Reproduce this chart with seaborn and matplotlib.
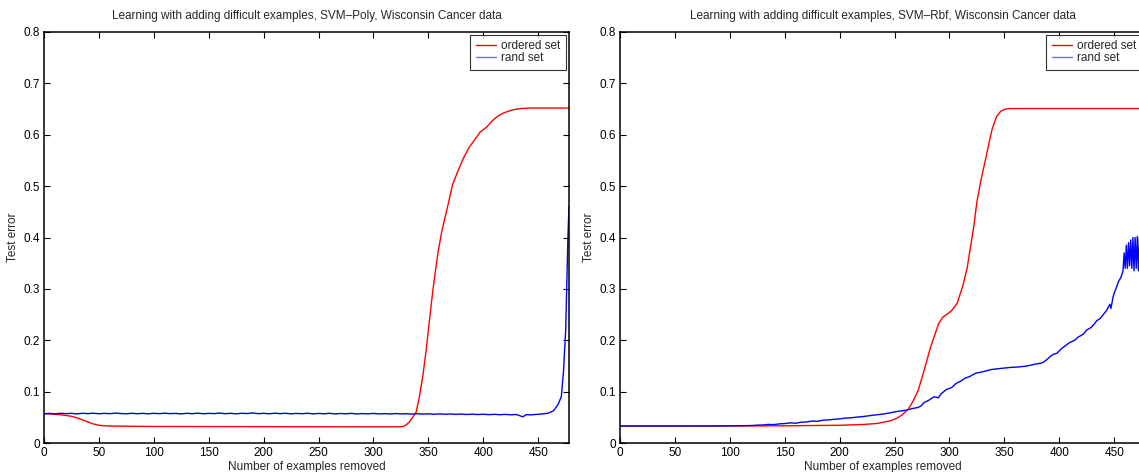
import numpy as np
import pandas as pd
import matplotlib
matplotlib.use("Agg")
import matplotlib.pyplot as plt
import seaborn as sns

# ---- data ----
poly_ord_x = [0, 5, 10, 15, 20, 25, 30, 35, 40, 45, 50, 55, 60, 70, 80, 100, 150, 200, 250, 300, 321.5,
              326.6, 329.6, 332.7, 335.7, 338.8, 341.8, 344.9, 347.9, 351, 354, 357, 359, 362, 365, 368,
              372, 377, 382, 387, 392, 397, 403, 408, 413, 418, 423, 428, 434, 443, 478]
poly_ord_y = [0.057, 0.0565, 0.0558, 0.055, 0.0535, 0.052, 0.049, 0.045, 0.041, 0.037, 0.0345, 0.0335,
              0.033, 0.0328, 0.0325, 0.0322, 0.032, 0.0318, 0.0316, 0.0315, 0.0315,
              0.032, 0.035, 0.041, 0.05, 0.06, 0.09, 0.13, 0.18, 0.24, 0.296, 0.345, 0.374, 0.41, 0.438,
              0.465, 0.503, 0.53, 0.555, 0.575, 0.59, 0.605, 0.615, 0.627, 0.636, 0.642, 0.646, 0.649,
              0.651, 0.652, 0.652]

poly_rand_x = [0, 5, 10, 15, 20, 25, 30, 35, 40, 45, 50, 55, 60, 65, 70, 75, 80, 85, 90, 95, 100,
               105, 110, 115, 120, 125, 130, 135, 140, 145, 150, 155, 160, 165, 170, 175, 180, 185, 190,
               195, 200, 205, 210, 215, 220, 225, 230, 235, 240, 245, 250, 255, 260, 265, 270, 275, 280,
               285, 290, 295, 300, 305, 310, 315, 320, 325, 330, 335, 340, 345, 350, 355, 360, 365, 370,
               375, 380, 385, 390, 395, 400, 405, 410, 415, 420, 425, 430, 436, 439, 443, 448, 453, 459,
               464, 468, 471, 473, 475, 476, 477, 478]
poly_rand_y = [0.057, 0.0576, 0.0568, 0.0579, 0.0571, 0.0577, 0.0566, 0.0578, 0.0572, 0.058, 0.0569,
               0.0577, 0.0571, 0.0582, 0.0574, 0.0568, 0.0579, 0.057, 0.0577, 0.0568, 0.0578,
               0.0571, 0.058, 0.0572, 0.0576, 0.0566, 0.0578, 0.0571, 0.0581, 0.0569, 0.0577,
               0.0572, 0.0583, 0.057, 0.0578, 0.0567, 0.0579, 0.0573, 0.0585, 0.0571, 0.0577,
               0.0569, 0.058, 0.0572, 0.0578, 0.0568, 0.0576, 0.057, 0.0579, 0.0567, 0.0575,
               0.0569, 0.0578, 0.0566, 0.0574, 0.0568, 0.0577, 0.0565, 0.0573, 0.0567, 0.0576,
               0.0566, 0.0572, 0.0564, 0.0573, 0.0566, 0.057, 0.0562, 0.0571, 0.0563, 0.0568,
               0.0559, 0.0567, 0.056, 0.0565, 0.0557, 0.0563, 0.0555, 0.0562, 0.0554, 0.056,
               0.0552, 0.0558, 0.0551, 0.0557, 0.0549, 0.0555, 0.051, 0.0552, 0.0548, 0.0556,
               0.0565, 0.058, 0.063, 0.075, 0.09, 0.14, 0.22, 0.31, 0.40, 0.46]

rbf_ord_x = [0, 50, 100, 150, 200, 221, 234, 246, 252, 257, 262.5, 266.5, 271.6, 276.7, 282.8, 286.9,
             290, 294, 298, 302, 307, 312, 316, 319, 322, 325, 328.5, 332.6, 335.6, 338.7, 342.7, 346.8,
             350.9, 355, 478]
rbf_ord_y = [0.033, 0.033, 0.0332, 0.0335, 0.0345, 0.036, 0.038, 0.043, 0.048, 0.055, 0.066, 0.08,
             0.103, 0.14, 0.187, 0.212, 0.232, 0.245, 0.251, 0.258, 0.272, 0.305, 0.34, 0.38, 0.42,
             0.47, 0.51, 0.55, 0.58, 0.61, 0.635, 0.646, 0.650, 0.651, 0.651]

rbf_rand_x = [0, 50, 100, 120, 125, 130, 135, 140, 145, 150, 155, 160, 165, 170, 175, 180, 185, 190,
              195, 200, 205, 210, 215, 220, 225, 230, 235, 240, 245, 251, 256, 261, 266, 271, 274, 277,
              281, 286, 290, 292, 297, 302, 306, 310, 314, 318, 324, 331, 338, 346, 355, 363, 371, 379,
              383, 386, 389, 391, 394, 398, 402, 406, 409, 414, 417, 422, 425, 429, 432, 434, 437, 440,
              443, 446, 447, 449, 450, 452, 454, 456, 458,
              459, 460, 461, 462, 463, 464, 465, 466, 467, 468, 469, 470, 471, 472, 473, 474, 475, 476,
              477, 478]
rbf_rand_y = [0.033, 0.033, 0.0333, 0.034, 0.0348, 0.035, 0.0362, 0.0358, 0.0372, 0.0378, 0.0392,
              0.0385, 0.0405, 0.041, 0.0428, 0.0422, 0.0445, 0.045, 0.0462, 0.0468, 0.0485, 0.049,
              0.0502, 0.0512, 0.0525, 0.054, 0.0552, 0.0565, 0.0582, 0.061, 0.0625, 0.064, 0.067,
              0.069, 0.072, 0.079, 0.083, 0.09, 0.088, 0.095, 0.104, 0.108, 0.116, 0.12, 0.126, 0.129,
              0.136, 0.139, 0.143, 0.145, 0.147, 0.148, 0.15, 0.154, 0.155, 0.158, 0.163, 0.167, 0.172,
              0.175, 0.184, 0.19, 0.195, 0.2, 0.206, 0.212, 0.22, 0.225, 0.232, 0.238, 0.242, 0.25,
              0.258, 0.27, 0.262, 0.285, 0.292, 0.303, 0.315, 0.322, 0.335,
              0.37, 0.34, 0.385, 0.34, 0.39, 0.345, 0.395, 0.34, 0.40, 0.335, 0.40, 0.34, 0.402, 0.335,
              0.40, 0.338, 0.405, 0.34, 0.40, 0.338]

titles = ["Learning with adding difficult examples, SVM\u2013Poly, Wisconsin Cancer data",
          "Learning with adding difficult examples, SVM\u2013Rbf, Wisconsin Cancer data"]
xticks = [0, 50, 100, 150, 200, 250, 300, 350, 400, 450]
yticks = [0, 0.1, 0.2, 0.3, 0.4, 0.5, 0.6, 0.7, 0.8]
ytick_labels = ["0", "0.1", "0.2", "0.3", "0.4", "0.5", "0.6", "0.7", "0.8"]

sns.set_style("white")
plt.rcParams["font.family"] = ["Liberation Sans", "DejaVu Sans"]
fs = 8.5

fig = plt.figure(figsize=(11.39, 4.72), dpi=100)
W = 525 / 1139
H = 411 / 472
B = 1 - 443 / 472
ax1 = fig.add_axes([44 / 1139, B, W, H])
ax2 = fig.add_axes([620 / 1139, B, W, H])

panels = [
    (ax1, poly_ord_x, poly_ord_y, poly_rand_x, poly_rand_y, titles[0]),
    (ax2, rbf_ord_x, rbf_ord_y, rbf_rand_x, rbf_rand_y, titles[1]),
]
for ax, ox, oy, rx, ry, title in panels:
    d_ord = pd.DataFrame({"x": ox, "y": oy})
    d_rand = pd.DataFrame({"x": rx, "y": ry})
    sns.lineplot(data=d_ord, x="x", y="y", ax=ax, color="#ff0000", lw=1.0, label="ordered set")
    sns.lineplot(data=d_rand, x="x", y="y", ax=ax, color="#0000ff", lw=1.0, label="rand set")
    ax.set_xlim(0, 478)
    ax.set_ylim(0, 0.8)
    ax.set_xticks(xticks)
    ax.set_xticklabels([str(t) for t in xticks], fontsize=fs)
    ax.set_yticks(yticks)
    ax.set_yticklabels(ytick_labels, fontsize=fs)
    ax.tick_params(direction="in", length=4, width=0.8, top=True, right=True,
                   bottom=True, left=True, pad=3, colors="black")
    for s in ax.spines.values():
        s.set_color("black")
        s.set_linewidth(1.1)
    ax.set_xlabel("Number of examples removed", fontsize=fs, labelpad=1)
    ax.set_ylabel("Test error", fontsize=fs, labelpad=3)
    ax.set_title(title, fontsize=fs, pad=9)
    leg = ax.legend(loc="upper right", fontsize=fs, frameon=True, fancybox=False,
                    borderpad=0.45, handlelength=1.7, handletextpad=0.5, labelspacing=0.0,
                    borderaxespad=0.25)
    leg.get_frame().set_edgecolor("black")
    leg.get_frame().set_linewidth(0.8)
    leg.get_lines()[1].set_color("#7070ff")

fig.savefig("out.png", dpi=100)
